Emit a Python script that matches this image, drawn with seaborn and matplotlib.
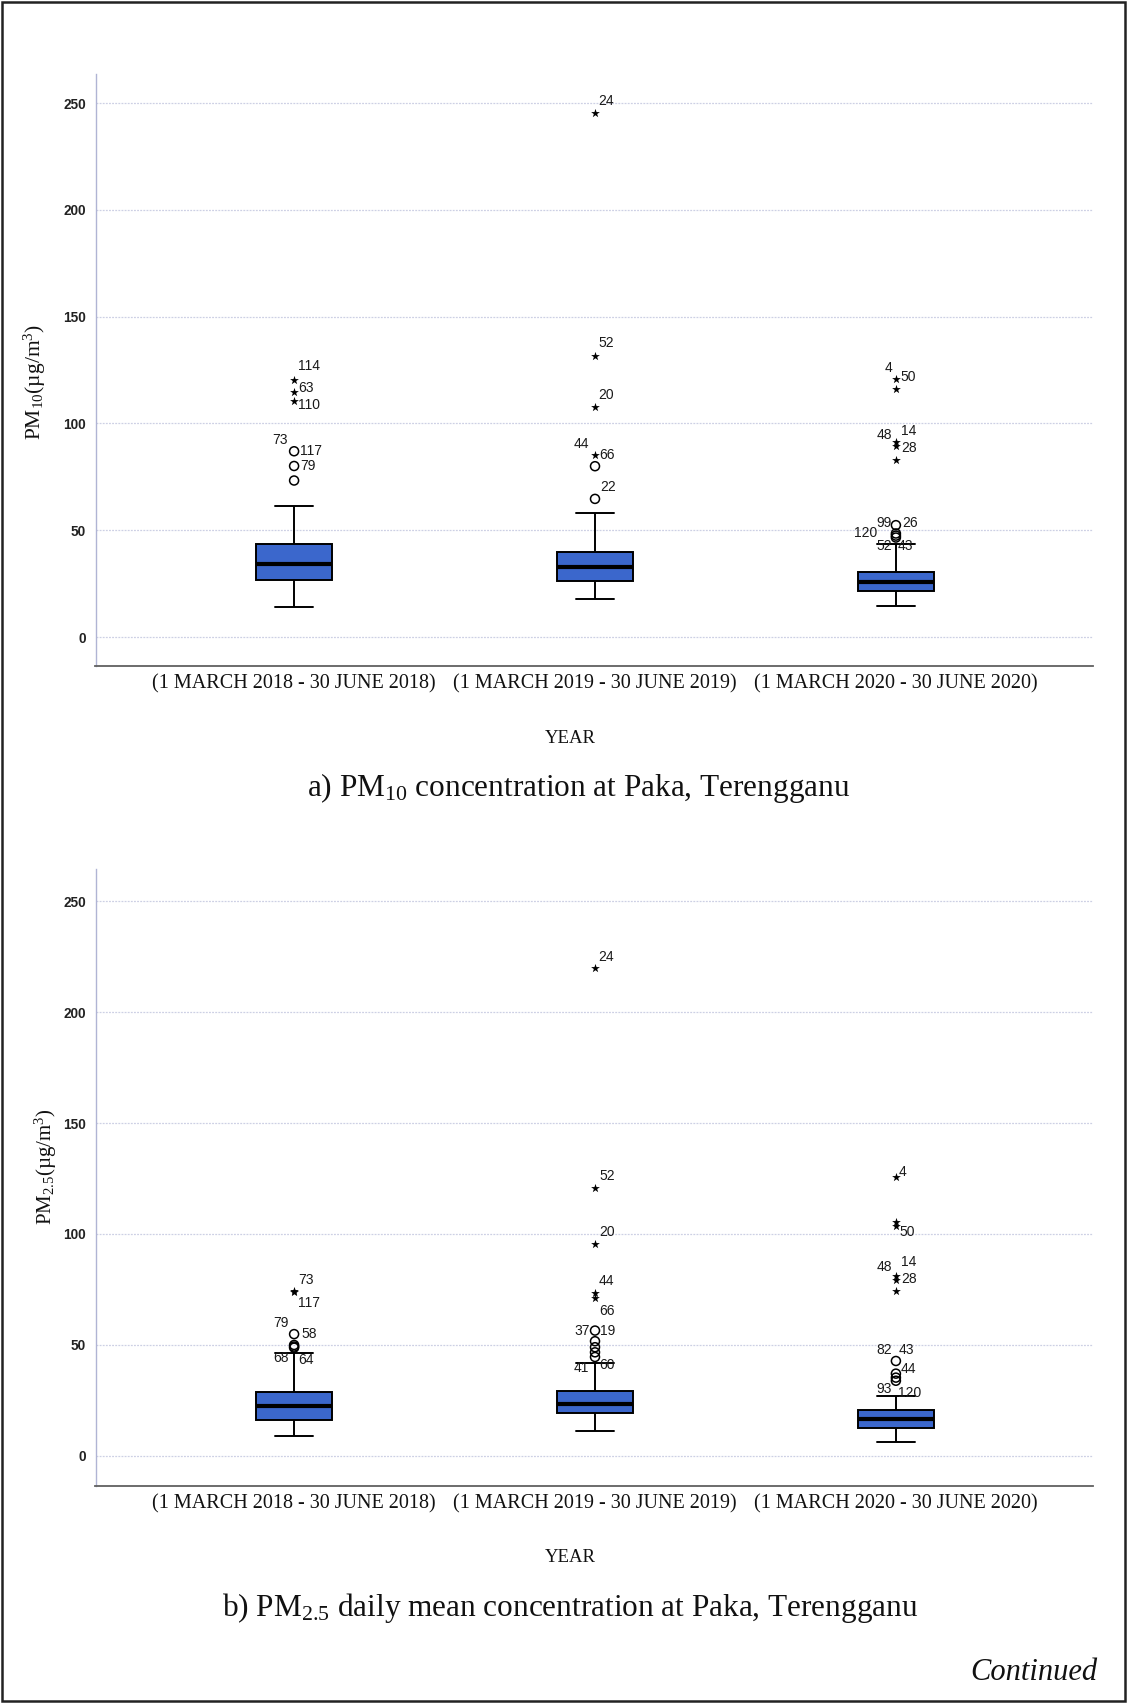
import numpy as np
import pandas as pd
import matplotlib
matplotlib.use("Agg")
import matplotlib.pyplot as plt
from matplotlib.patches import Rectangle
import seaborn as sns

# ---------------------------------------------------------------- data
periods = ["(1 MARCH 2018 - 30 JUNE 2018)",
           "(1 MARCH 2019 - 30 JUNE 2019)",
           "(1 MARCH 2020 - 30 JUNE 2020)"]

# lower whisker, Q1, median, Q3, upper whisker for each period
pm10_box = [[14.2, 26.5, 34.4, 43.5, 61.6],
            [17.7, 26.2, 32.9, 39.9, 58.2],
            [14.4, 21.8, 25.9, 30.7, 43.6]]
pm25_box = [[8.9, 16.4, 22.3, 28.9, 46.4],
            [11.1, 19.3, 23.2, 29.1, 41.9],
            [6.2, 12.5, 16.6, 20.5, 27.1]]

# outliers (circles) and extreme values (stars) per period
pm10_mild = [[87.0, 80.1, 73.3], [80.0, 64.7], [52.4, 48.5, 47.5, 46.6]]
pm10_extreme = [[120.3, 114.7, 110.7], [245.5, 131.8, 107.8, 85.2],
                [120.7, 116.1, 91.1, 89.3, 82.8]]
pm25_mild = [[54.9, 50.0, 49.3, 48.8], [56.5, 51.7, 49.0, 46.7, 44.6],
             [42.8, 37.1, 35.3, 33.9]]
pm25_extreme = [[74.5, 74.0], [219.7, 120.9, 95.4, 73.5, 71.0],
                [125.5, 105.2, 103.4, 81.1, 79.4, 74.5]]

# case labels: (period index, value of the point, case id)
pm10_cases = [(0, 120.3, "114"), (0, 114.7, "63"), (0, 110.7, "110"),
              (0, 87.0, "117"), (0, 80.1, "79"), (0, 87.0, "73"),
              (1, 245.5, "24"), (1, 131.8, "52"), (1, 107.8, "20"),
              (1, 85.2, "66"), (1, 85.2, "44"), (1, 64.7, "22"),
              (2, 120.7, "50"), (2, 120.7, "4"), (2, 91.1, "14"),
              (2, 91.1, "48"), (2, 89.3, "28"), (2, 52.4, "99"),
              (2, 52.4, "26"), (2, 48.5, "120"), (2, 46.6, "52"),
              (2, 46.6, "43")]
pm25_cases = [(0, 74.5, "73"), (0, 74.0, "117"), (0, 54.9, "58"),
              (0, 54.9, "79"), (0, 49.3, "68"), (0, 49.3, "64"),
              (1, 219.7, "24"), (1, 120.9, "52"), (1, 95.4, "20"),
              (1, 73.5, "44"), (1, 71.0, "66"), (1, 56.5, "37"),
              (1, 56.5, "19"), (1, 44.6, "41"), (1, 44.6, "60"),
              (2, 125.5, "4"), (2, 103.4, "50"), (2, 81.1, "48"),
              (2, 81.1, "14"), (2, 79.4, "28"), (2, 42.8, "82"),
              (2, 42.8, "43"), (2, 37.1, "44"), (2, 33.9, "93"),
              (2, 33.9, "120")]

# label placement: (dx in px, dy in data units, horizontal alignment)
pm10_place = [(4, 6.5, "left"), (4, 1.8, "left"), (4, -2.2, "left"),
              (6, 0, "left"), (6, 0, "left"), (-6, 5.5, "right"),
              (3, 5.5, "left"), (3, 5.9, "left"), (3, 5.5, "left"),
              (4, 0, "left"), (-6, 5.4, "right"), (5, 5.7, "left"),
              (5, 1, "left"), (-4, 5.5, "right"), (5, 5.5, "left"),
              (-4, 3.7, "right"), (5, -1, "left"), (-4, 1, "right"),
              (6, 1, "left"), (-19, 0, "right"), (-4, -4, "right"),
              (2, -4, "left")]
pm25_place = [(4, 4.8, "left"), (4, -5.3, "left"), (7, 0, "left"),
              (-5, 4.8, "right"), (-5, -5.3, "right"), (4, -6, "left"),
              (3, 5.3, "left"), (4, 5.2, "left"), (4, 5.3, "left"),
              (4, 5.5, "left"), (4, -5.5, "left"), (-5, 0, "right"),
              (5, 0, "left"), (-6, -5, "right"), (4, -3.8, "left"),
              (3, 2.5, "left"), (4, -2.7, "left"), (-4, 4.1, "right"),
              (5, 6.3, "left"), (5, 0.5, "left"), (-4, 5, "right"),
              (3, 5, "left"), (5, 2, "left"), (-4, -3.6, "right"),
              (2, -5.7, "left")]

yticks = [0, 50, 100, 150, 200, 250]

# ---------------------------------------------------------------- style
sns.set_style("white")
plt.rcParams["font.family"] = ["Liberation Serif", "DejaVu Serif"]
plt.rcParams["mathtext.fontset"] = "custom"
plt.rcParams["mathtext.rm"] = "Liberation Serif"
plt.rcParams["mathtext.it"] = "Liberation Serif:italic"
plt.rcParams["mathtext.bf"] = "Liberation Serif:bold"

BLUE = "#3b67cc"
W, H = 1127, 1703
fig = plt.figure(figsize=(W / 100, H / 100), dpi=100)
fig.patch.set_facecolor("white")


def panel(rect, box, mild, extreme, cases, place, ylim):
    ax = fig.add_axes(rect)
    df = pd.DataFrame({"period": np.repeat(periods, 5),
                       "value": np.concatenate(box)})
    sns.boxplot(data=df, x="period", y="value", order=periods, ax=ax,
                color=BLUE, saturation=1, width=0.253, whis=(0, 100),
                showfliers=False, linecolor="black", linewidth=1.4,
                medianprops={"linewidth": 3.0, "color": "black"})
    for i in range(len(periods)):
        ax.scatter(np.full(len(mild[i]), i), mild[i], s=42, marker="o",
                   facecolors="none", edgecolors="black", linewidths=1.1,
                   zorder=4)
        ax.scatter(np.full(len(extreme[i]), i), extreme[i], s=44,
                   marker="*", color="black", linewidths=0, zorder=4)
    ax.set_xlim(-0.66, 2.655)
    ax.set_ylim(*ylim)
    ax.set_yticks(yticks)
    ax.set_yticklabels([str(t) for t in yticks], fontfamily="Liberation Sans",
                       fontweight="bold", fontsize=9.8, color="#222222")
    ax.set_xticks(range(len(periods)))
    ax.set_xticklabels(periods, fontsize=14.5, color="#111111")
    ax.tick_params(axis="both", length=0)
    ax.tick_params(axis="y", pad=7)
    ax.tick_params(axis="x", pad=6)
    ax.set_xlabel("")
    ax.set_ylabel("")
    ax.set_axisbelow(True)
    ax.yaxis.grid(True, color="#cdd0e4", linestyle=(0, (1.5, 1.0)),
                  linewidth=0.9)
    ax.xaxis.grid(False)
    for s in ("top", "right"):
        ax.spines[s].set_visible(False)
    ax.spines["left"].set_color("#b0b4d4")
    ax.spines["left"].set_linewidth(1.0)
    ax.spines["bottom"].set_color("#606060")
    ax.spines["bottom"].set_linewidth(1.3)

    p0 = ax.transData.transform((0, 0))[1]
    p1 = ax.transData.transform((0, 1))[1]
    pt_per_unit = (p1 - p0) * 72 / fig.dpi
    for (g, v, txt), (dx, dy, ha) in zip(cases, place):
        ax.annotate(txt, (g, v), xytext=(dx * 0.72, dy * pt_per_unit),
                    textcoords="offset points", ha=ha, va="center",
                    fontsize=10, fontfamily="Liberation Sans",
                    color="#1a1a1a", zorder=5)
    return ax


panel([95.5 / W, 1 - 665.5 / H, (1093 - 95.5) / W, (665.5 - 73.8) / H],
      pm10_box, pm10_mild, pm10_extreme, pm10_cases, pm10_place,
      (-13.3, 263.7))
panel([95.5 / W, 1 - 1486.4 / H, (1093 - 95.5) / W, (1486.4 - 868.6) / H],
      pm25_box, pm25_mild, pm25_extreme, pm25_cases, pm25_place,
      (-13.7, 264.6))

# axis titles and captions
fig.text(35 / W, 1 - 382 / H, r"PM$_{10}$(µg/m$^{3}$)", rotation=90,
         ha="center", va="center", fontsize=15.5, color="#111111")
fig.text(46 / W, 1 - 1167 / H, r"PM$_{2.5}$(µg/m$^{3}$)", rotation=90,
         ha="center", va="center", fontsize=15, color="#111111")
fig.text(570 / W, 1 - 738 / H, "YEAR", ha="center", va="center",
         fontsize=13.5, color="#111111")
fig.text(570 / W, 1 - 1557 / H, "YEAR", ha="center", va="center",
         fontsize=13.5, color="#111111")
fig.text(579 / W, 1 - 788 / H, r"a) PM$_{10}$ concentration at Paka, Terengganu",
         ha="center", va="center", fontsize=22.5, color="#111111")
fig.text(570 / W, 1 - 1608 / H,
         r"b) PM$_{2.5}$ daily mean concentration at Paka, Terengganu",
         ha="center", va="center", fontsize=22.5, color="#111111")
fig.text(1097 / W, 1 - 1672 / H, "Continued", ha="right", va="center",
         fontsize=22, fontstyle="italic", color="#111111")

# page frame
fig.add_artist(Rectangle((2 / W, 2 / H), 1 - 4 / W, 1 - 4 / H,
                         transform=fig.transFigure, fill=False,
                         edgecolor="#222222", linewidth=1.8))

fig.savefig("out.png", dpi=100, facecolor="white")
